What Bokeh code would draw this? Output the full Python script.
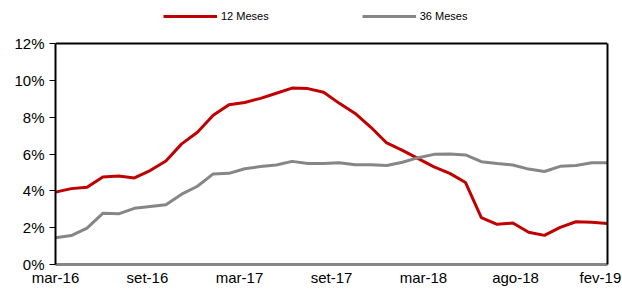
from bokeh.plotting import figure
from bokeh.models import (ColumnDataSource, Legend, LegendItem, Range1d, FixedTicker,
                          NumeralTickFormatter, LinearAxis, Span)
from bokeh.embed import file_html
from bokeh.resources import INLINE

# ---- data ----
months = ["mar-16", "abr-16", "mai-16", "jun-16", "jul-16", "ago-16", "set-16", "out-16",
          "nov-16", "dez-16", "jan-17", "fev-17", "mar-17", "abr-17", "mai-17", "jun-17",
          "jul-17", "ago-17", "set-17", "out-17", "nov-17", "dez-17", "jan-18", "fev-18",
          "mar-18", "abr-18", "mai-18", "jun-18", "jul-18", "ago-18", "set-18", "out-18",
          "nov-18", "dez-18", "jan-19", "fev-19"]
meses_12 = [3.93, 4.12, 4.20, 4.75, 4.80, 4.70, 5.10, 5.62, 6.55, 7.18, 8.10, 8.68,
            8.80, 9.02, 9.30, 9.58, 9.55, 9.35, 8.75, 8.20, 7.45, 6.60, 6.20, 5.75,
            5.30, 4.95, 4.45, 2.55, 2.18, 2.25, 1.75, 1.58, 2.02, 2.32, 2.30, 2.22]
meses_36 = [1.45, 1.57, 1.98, 2.78, 2.75, 3.05, 3.15, 3.25, 3.82, 4.25, 4.92, 4.95,
            5.20, 5.32, 5.40, 5.60, 5.48, 5.48, 5.52, 5.42, 5.42, 5.38, 5.55, 5.80,
            5.98, 6.00, 5.95, 5.58, 5.48, 5.40, 5.18, 5.05, 5.33, 5.37, 5.52, 5.52]
x_tick_pos = [0, 5.83, 11.67, 17.5, 23.33, 29.17, 34.55]
x_tick_labels = ["mar-16", "set-16", "mar-17", "set-17", "mar-18", "ago-18", "fev-19"]
y_ticks = [0, 2, 4, 6, 8, 10, 12]

src = ColumnDataSource(dict(x=list(range(len(months))), m12=[v / 100 for v in meses_12],
                            m36=[v / 100 for v in meses_36]))

FONT = "Liberation Sans"
W, H = 622, 289
LEFT, RIGHT, TOP_BOX, BOTTOM = 55, 15, 43, 25
frame_h = H - BOTTOM
y_max = y_ticks[-1] / 100
y_end = y_max * frame_h / (frame_h - TOP_BOX)   # leave room for the legend above 12%

p = figure(width=W, height=H, output_backend="svg", toolbar_location=None,
           x_range=Range1d(0, len(months) - 1), y_range=Range1d(0, y_end),
           min_border_left=LEFT, min_border_right=RIGHT, min_border_top=0,
           min_border_bottom=BOTTOM)
p.background_fill_color = "white"
p.border_fill_color = "white"
p.grid.visible = False
p.outline_line_color = None

r12 = p.line("x", "m12", source=src, line_color="#C00000", line_width=3)
r36 = p.line("x", "m36", source=src, line_color="#868686", line_width=3)

# y axis
ya = p.yaxis[0]
ya.ticker = FixedTicker(ticks=[t / 100 for t in y_ticks])
ya.formatter = NumeralTickFormatter(format="0%")
ya.bounds = (0, y_max)
ya.axis_line_color = "black"
ya.axis_line_width = 2
ya.major_tick_out = 6
ya.major_tick_in = 0
ya.major_tick_line_color = "black"
ya.minor_tick_line_color = None
ya.major_label_text_font = FONT
ya.major_label_text_font_size = "15px"
ya.major_label_text_color = "black"
ya.major_label_standoff = 5

# right border of the box
ra = LinearAxis(ticker=FixedTicker(ticks=[]), bounds=(0, y_max),
                axis_line_color="black", axis_line_width=2,
                major_tick_out=0, major_tick_in=0, minor_tick_out=0, minor_tick_in=0,
                major_label_standoff=0, major_label_text_font_size="1px")
p.add_layout(ra, "right")

# top border of the box at 12%
p.add_layout(Span(location=y_max, dimension="width", line_color="black", line_width=2))

# x axis
xa = p.xaxis[0]
xa.ticker = FixedTicker(ticks=x_tick_pos)
xa.major_label_overrides = {t: l for t, l in zip(x_tick_pos, x_tick_labels)}
xa.axis_line_color = "#868686"
xa.axis_line_width = 3
xa.major_tick_out = 0
xa.major_tick_in = 0
xa.major_tick_line_color = None
xa.minor_tick_line_color = None
xa.major_label_text_font = FONT
xa.major_label_text_font_size = "15px"
xa.major_label_text_color = "black"
xa.major_label_standoff = 4

legend = Legend(items=[LegendItem(label="12 Meses", renderers=[r12]),
                       LegendItem(label="36 Meses", renderers=[r36])],
                orientation="horizontal", location=(108, 242),
                glyph_width=54, glyph_height=12, label_height=12,
                label_text_font=FONT, label_text_font_size="11px",
                label_text_color="black", label_standoff=4, spacing=93,
                padding=0, margin=0, border_line_color=None,
                background_fill_alpha=0)
p.add_layout(legend, "center")

open("out.html", "w").write(file_html(p, INLINE))
